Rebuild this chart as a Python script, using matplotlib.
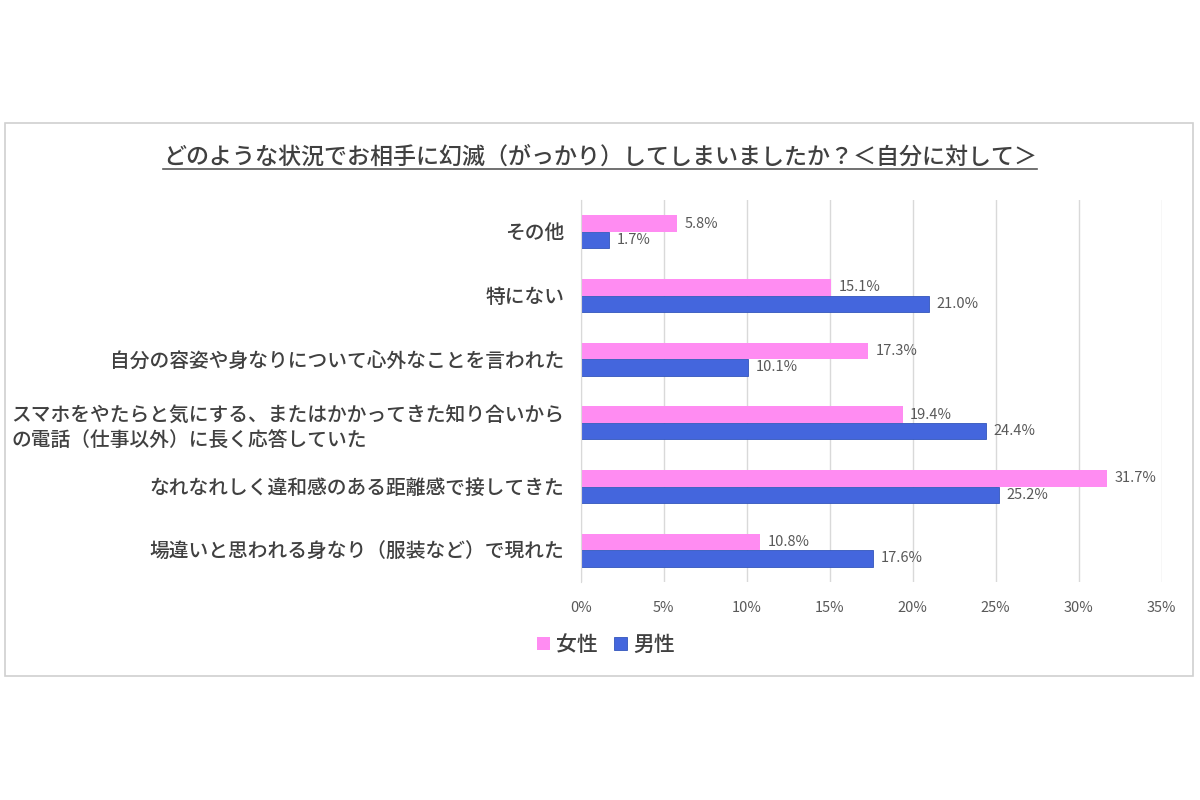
import matplotlib
matplotlib.use("Agg")
import matplotlib.pyplot as plt
import numpy as np
from matplotlib.patches import Rectangle
from matplotlib.lines import Line2D

plt.rcParams['font.family'] = ['Noto Sans CJK JP', 'DejaVu Sans']

categories = [
    "その他",
    "特にない",
    "自分の容姿や身なりについて心外なことを言われた",
    "スマホをやたらと気にする、またはかかってきた知り合いから\nの電話（仕事以外）に長く応答していた",
    "なれなれしく違和感のある距離感で接してきた",
    "場違いと思われる身なり（服装など）で現れた",
]
female = [5.8, 15.1, 17.3, 19.4, 31.7, 10.8]
male = [1.7, 21.0, 10.1, 24.4, 25.2, 17.6]
series_names = ["女性", "男性"]
xticks = [0, 5, 10, 15, 20, 25, 30, 35]

pink = "#FF8CF2"
blue = "#4466DD"

fig = plt.figure(figsize=(12, 8), dpi=100)
ax = fig.add_axes([0.484, 0.2725, 0.484, 0.4775])

y = np.arange(len(categories))
h = 0.26
ax.barh(y - h / 2, female, height=h, color=pink, label=series_names[0])
ax.barh(y + h / 2, male, height=h, color=blue, edgecolor="#3355BB", linewidth=0.6,
        label=series_names[1])

for yi, v in zip(y, female):
    ax.text(v + 0.45, yi - h / 2, f"{v:.1f}%", va="center", ha="left",
            fontsize=10.5, color="#595959")
for yi, v in zip(y, male):
    ax.text(v + 0.45, yi + h / 2, f"{v:.1f}%", va="center", ha="left",
            fontsize=10.5, color="#595959")

ax.set_xlim(0, 35)
ax.set_ylim(len(categories) - 0.5, -0.5)
ax.set_xticks(xticks)
ax.set_xticklabels([f"{t}%" for t in xticks], fontsize=10.5, color="#595959")
ax.set_yticks(y)
ax.set_yticklabels(categories, fontsize=14.2, color="#404040", fontweight="medium",
                   multialignment="left", linespacing=1.45)
ax.tick_params(axis="both", length=0)
ax.tick_params(axis="x", pad=14)
ax.tick_params(axis="y", pad=12)
ax.grid(axis="x", color="#D9D9D9", linewidth=1)
ax.set_axisbelow(True)
for s in ["top", "right", "bottom"]:
    ax.spines[s].set_visible(False)
ax.spines["left"].set_color("#D9D9D9")

# outer border
fig.patches.append(Rectangle((5 / 1200, 1 - 676 / 800), 1188 / 1200, 553 / 800,
                             transform=fig.transFigure, fill=False,
                             edgecolor="#D0D0D0", linewidth=1.2))

# title with underline
title = fig.text(0.5, 1 - 157 / 800,
                 "どのような状況でお相手に幻滅（がっかり）してしまいましたか？＜自分に対して＞",
                 ha="center", va="center", fontsize=16.6, color="#404040",
                 fontweight="medium")
fig.canvas.draw()
bb = title.get_window_extent().transformed(fig.transFigure.inverted())
fig.add_artist(Line2D([bb.x0, bb.x1], [bb.y0 - 0.001, bb.y0 - 0.001],
                      transform=fig.transFigure, color="#595959", linewidth=1.2))

fig.legend(loc="center", bbox_to_anchor=(0.505, 1 - 645 / 800), ncol=2,
           frameon=False, prop={"size": 15, "weight": "medium"},
           handlelength=0.6, handleheight=0.6, handletextpad=0.3,
           columnspacing=0.8, labelcolor="#404040")

fig.savefig("out.png", dpi=100)
